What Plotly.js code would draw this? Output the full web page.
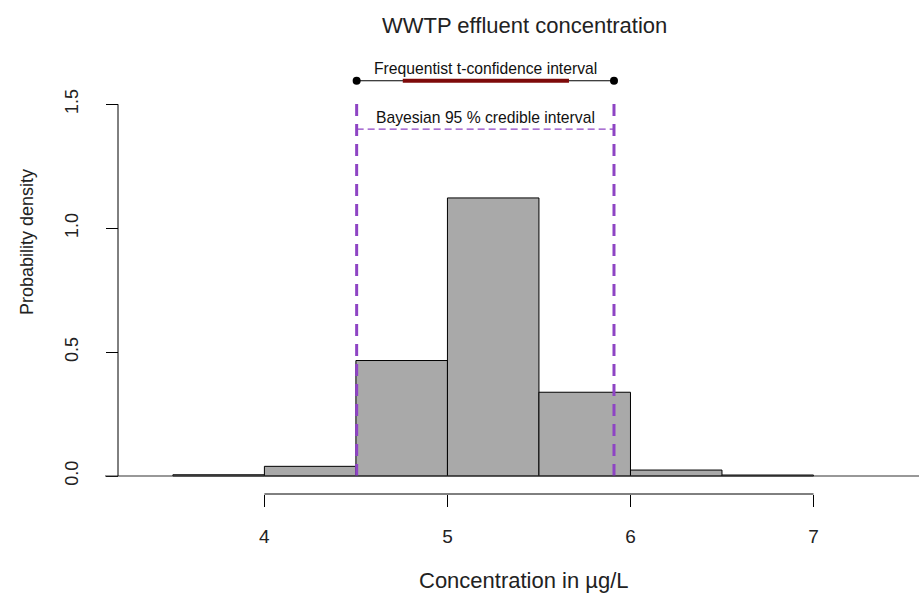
<!DOCTYPE html>
<html>
<head>
<meta charset="utf-8">
<script src="https://cdn.plot.ly/plotly-3.0.1.min.js"></script>
<style>html,body{margin:0;padding:0;background:#fff;}#chart{width:919px;height:604px;}</style>
</head>
<body>
<div id="chart"></div>
<script>
// ---- data ----
const binMids = [3.75, 4.25, 4.75, 5.25, 5.75, 6.25, 6.75];
const densities = [0.005, 0.039, 0.466, 1.122, 0.338, 0.024, 0.004];
const binWidth = 0.5;
const xTicks = [4, 5, 6, 7];
const yTicks = [0, 0.5, 1.0, 1.5];
const yTickText = ['0.0', '0.5', '1.0', '1.5'];
const freqCI = [4.504, 5.910];      // frequentist t-confidence interval ends
const freqInner = [4.756, 5.664];   // dark red segment
const freqY = 1.595;
const bayesCI = [4.504, 5.910];     // Bayesian 95 % credible interval
const bayesY = 1.40;
const bayesTop = 1.51;
const titleText = 'WWTP effluent concentration';
const xLabel = 'Concentration in µg/L';
const yLabel = 'Probability density';
const freqLabel = 'Frequentist t-confidence interval';
const bayesLabel = 'Bayesian 95 % credible interval';

const FONT = 'Liberation Sans, Arial, Helvetica, sans-serif';
const purple = '#8E44C4';

const W = 919, H = 604;
const mL = 105, mR = 0, mT = 50, mB = 110;
const plotW = W - mL - mR, plotH = H - mT - mB;
const px2paperX = p => (p - mL) / plotW;
const px2paperY = p => (H - mB - p) / plotH;

const traces = [
  {
    type: 'bar', x: binMids, y: densities, width: binWidth,
    marker: {color: '#A9A9A9', line: {color: '#000', width: 1}},
    hoverinfo: 'skip', showlegend: false
  },
  {
    type: 'scatter', mode: 'lines', x: [bayesCI[0], bayesCI[0]], y: [0, bayesTop],
    line: {color: purple, width: 3, dash: '12px,8px'}, showlegend: false, hoverinfo: 'skip'
  },
  {
    type: 'scatter', mode: 'lines', x: [bayesCI[1], bayesCI[1]], y: [0, bayesTop],
    line: {color: purple, width: 3, dash: '12px,8px'}, showlegend: false, hoverinfo: 'skip'
  },
  {
    type: 'scatter', mode: 'lines', x: bayesCI, y: [bayesY, bayesY],
    line: {color: purple, width: 1.3, dash: '7px,4px'}, showlegend: false, hoverinfo: 'skip'
  },
  {
    type: 'scatter', mode: 'lines', x: freqCI, y: [freqY, freqY],
    line: {color: '#000', width: 1.2}, showlegend: false, hoverinfo: 'skip'
  },
  {
    type: 'scatter', mode: 'lines', x: freqInner, y: [freqY, freqY],
    line: {color: '#7E0A0A', width: 4}, showlegend: false, hoverinfo: 'skip'
  },
  {
    type: 'scatter', mode: 'markers', x: freqCI, y: [freqY, freqY],
    marker: {color: '#000', size: 8}, showlegend: false, hoverinfo: 'skip'
  }
];

const layout = {
  width: W, height: H,
  margin: {l: mL, r: mR, t: mT, b: mB, pad: 0},
  paper_bgcolor: '#fff', plot_bgcolor: '#fff',
  font: {family: FONT, color: '#000', size: 18},
  showlegend: false,
  xaxis: {
    range: [3.1291, 7.5764], showgrid: false, zeroline: false, showline: false,
    tickmode: 'array', tickvals: xTicks, ticks: 'outside', ticklen: 12, tickwidth: 1,
    tickcolor: '#000', tickfont: {family: FONT, size: 19, color: '#222'},
    ticklabelstandoff: 13, fixedrange: true
  },
  yaxis: {
    range: [-0.0726, 1.719], showgrid: false, zeroline: false, showline: false,
    anchor: 'free', position: px2paperX(118),
    tickmode: 'array', tickvals: yTicks, ticktext: yTickText, tickangle: -90,
    ticks: 'outside', ticklen: 12, tickwidth: 1, tickcolor: '#000',
    tickfont: {family: FONT, size: 18, color: '#222'},
    ticklabelstandoff: 21, fixedrange: true
  },
  shapes: [
    // baseline (y = 0) across the figure
    {type: 'line', xref: 'paper', yref: 'y', x0: px2paperX(105), x1: 1, y0: 0, y1: 0,
     line: {color: '#333', width: 1.2}, layer: 'above'},
    // x axis line from first to last tick
    {type: 'line', xref: 'x', yref: 'paper', x0: xTicks[0], x1: xTicks[xTicks.length - 1], y0: 0, y1: 0,
     line: {color: '#000', width: 1}},
    // y axis line from first to last tick
    {type: 'line', xref: 'paper', yref: 'y', x0: px2paperX(118), x1: px2paperX(118),
     y0: yTicks[0], y1: yTicks[yTicks.length - 1], line: {color: '#000', width: 1}}
  ],
  annotations: [
    {text: titleText, xref: 'paper', yref: 'paper', x: px2paperX(524), y: px2paperY(25),
     xanchor: 'center', yanchor: 'middle', showarrow: false,
     font: {family: FONT, size: 22, color: '#222'}},
    {text: xLabel, xref: 'paper', yref: 'paper', x: px2paperX(524), y: px2paperY(580),
     xanchor: 'center', yanchor: 'middle', showarrow: false,
     font: {family: FONT, size: 22, color: '#222'}},
    {text: yLabel, xref: 'paper', yref: 'paper', x: px2paperX(27), y: px2paperY(242),
     xanchor: 'center', yanchor: 'middle', textangle: -90, showarrow: false,
     font: {family: FONT, size: 18, color: '#222'}},
    {text: freqLabel, xref: 'x', yref: 'y', x: (freqCI[0] + freqCI[1]) / 2, y: 1.645,
     xanchor: 'center', yanchor: 'middle', showarrow: false,
     font: {family: FONT, size: 15.7, color: '#111'}},
    {text: bayesLabel, xref: 'x', yref: 'y', x: (bayesCI[0] + bayesCI[1]) / 2, y: 1.445,
     xanchor: 'center', yanchor: 'middle', showarrow: false,
     font: {family: FONT, size: 15.7, color: '#111'}}
  ]
};

Plotly.newPlot('chart', traces, layout, {staticPlot: true, displayModeBar: false});
</script>
</body>
</html>
